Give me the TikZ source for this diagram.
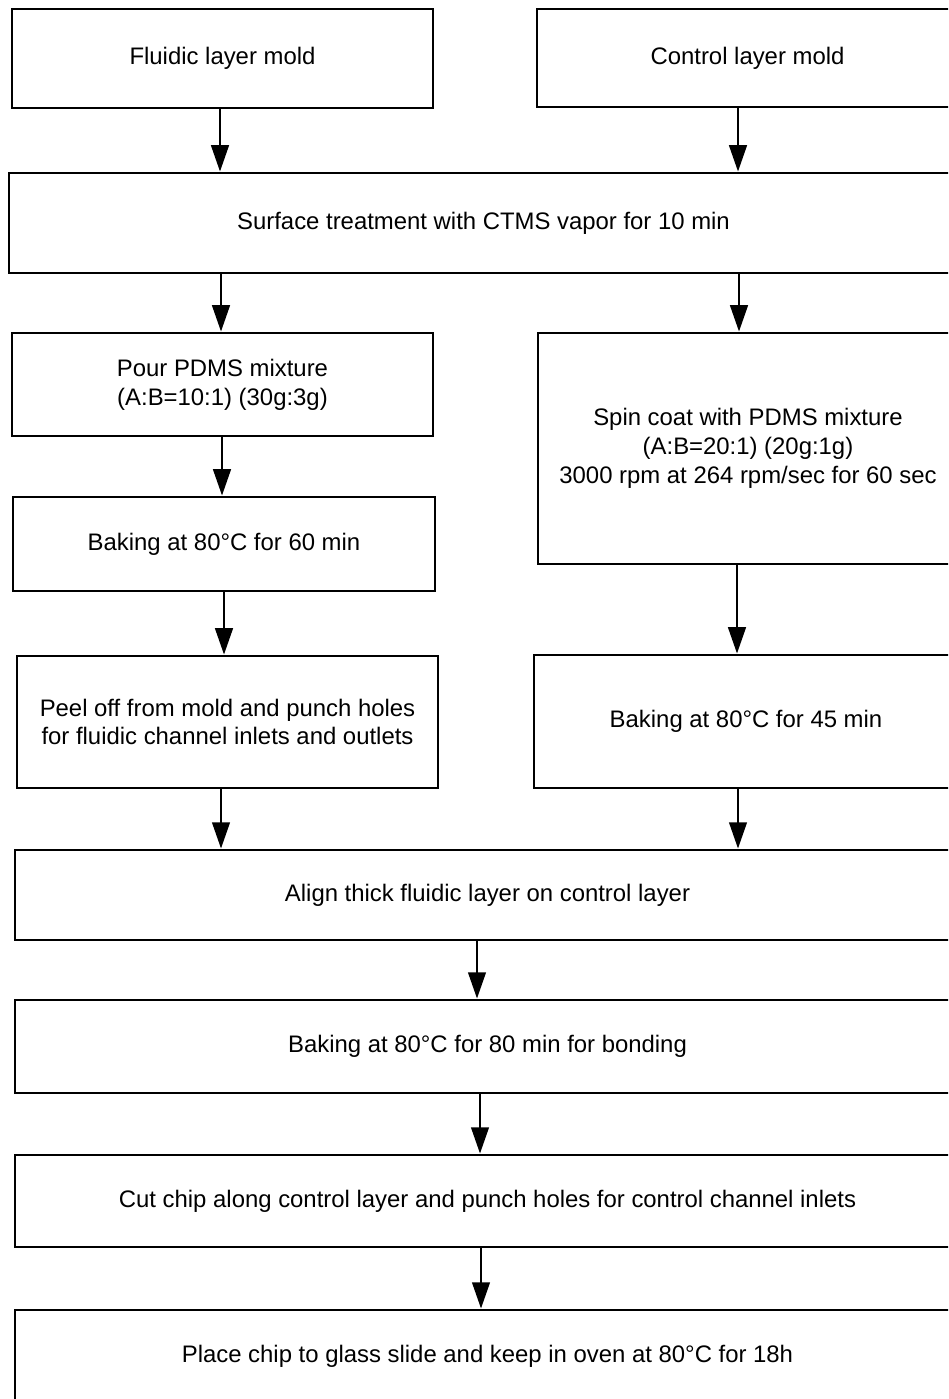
\documentclass[tikz,border=0pt]{standalone}
\usepackage{fontspec}
\setmainfont{Liberation Sans}
\usetikzlibrary{arrows.meta}
\newcommand{\flowbox}[6]{%
  \node[box, minimum width={0.02cm*(#4-#2)}, minimum height={0.02cm*(#5-#3)}]
    (#1) at ({(#2+#4)/2},{(#3+#5)/2}) {#6};}
\begin{document}
\begin{tikzpicture}[x=0.02cm,y=-0.02cm,
  box/.style={draw, line width=1.6pt, inner sep=0pt, align=center,
    font=\fontsize{13.6}{16.4}\selectfont},
  arr/.style={line width=1.5pt, -{Triangle[length=15pt,width=10pt]}}]
\useasboundingbox (0,0) rectangle (948,1399);
\fill[white] (0,0) rectangle (948,1399);
\clip (0,0) rectangle (948,1399);
\flowbox{fluid}{12}{9}{433}{108}{Fluidic layer mold}
\flowbox{ctrl}{537}{9}{958}{107}{Control layer mold}
\flowbox{surf}{9}{173}{958}{273}{Surface treatment with CTMS vapor for 10 min}
\flowbox{pour}{12}{333}{433}{436}{Pour PDMS mixture\\(A:B=10:1) (30g:3g)}
\flowbox{bake60}{13}{497}{435}{591}{Baking at 80°C for 60 min}
\flowbox{peel}{17}{656}{438}{788}{Peel off from mold and punch holes\\for fluidic channel inlets and outlets}
\flowbox{spin}{538}{333}{958}{564}{Spin coat with PDMS mixture\\(A:B=20:1) (20g:1g)\\3000 rpm at 264 rpm/sec for 60 sec}
\flowbox{bake45}{534}{655}{958}{788}{Baking at 80°C for 45 min}
\flowbox{align}{15}{850}{960}{940}{Align thick fluidic layer on control layer}
\flowbox{bond}{15}{1000}{960}{1093}{Baking at 80°C for 80 min for bonding}
\flowbox{cut}{15}{1155}{960}{1247}{Cut chip along control layer and punch holes for control channel inlets}
\flowbox{place}{15}{1310}{960}{1402}{Place chip to glass slide and keep in oven at 80°C for 18h}

\draw[arr] (fluid.south -| 220,0) -- (surf.north -| 220,0);
\draw[arr] (ctrl.south -| 738,0) -- (surf.north -| 738,0);
\draw[arr] (surf.south -| 221,0) -- (pour.north -| 221,0);
\draw[arr] (surf.south -| 739,0) -- (spin.north -| 739,0);
\draw[arr] (pour.south -| 222,0) -- (bake60.north -| 222,0);
\draw[arr] (bake60.south -| 224,0) -- (peel.north -| 224,0);
\draw[arr] (spin.south -| 737,0) -- (bake45.north -| 737,0);
\draw[arr] (peel.south -| 221,0) -- (align.north -| 221,0);
\draw[arr] (bake45.south -| 738,0) -- (align.north -| 738,0);
\draw[arr] (align.south -| 477,0) -- (bond.north -| 477,0);
\draw[arr] (bond.south -| 480,0) -- (cut.north -| 480,0);
\draw[arr] (cut.south -| 481,0) -- (place.north -| 481,0);
\end{tikzpicture}
\end{document}
